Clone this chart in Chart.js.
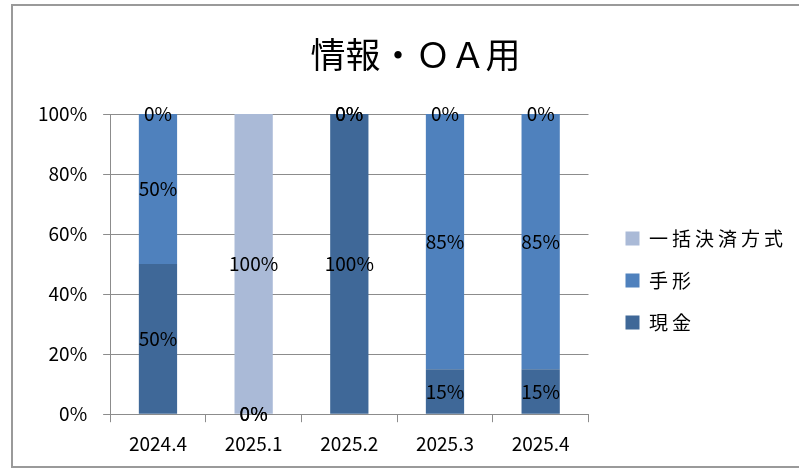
<!DOCTYPE html>
<html>
<head>
<meta charset="utf-8">
<script src="https://cdn.jsdelivr.net/npm/chart.js@4/dist/chart.umd.min.js"></script>
<style>
    html, body { margin: 0; padding: 0; background: #fff; overflow: hidden; }
    #wrap { position: relative; width: 799px; height: 474px; overflow: hidden; }
    #frame { position: absolute; left: 11px; top: 4px; width: 1200px; height: 464px; border: 2px solid #9a9a9a; box-sizing: border-box; }
    #chart { position: absolute; left: 0; top: 0; }
</style>
</head>
<body>
<div id="wrap">
    <div id="frame"></div>
    <canvas id="chart" width="799" height="474"></canvas>
</div>
<script>
var categories = ['2024.4', '2025.1', '2025.2', '2025.3', '2025.4'];
var genkin = [50, 0, 100, 15, 15];      // 現金
var tegata = [50, 0, 0, 85, 85];        // 手形
var ikkatsu = [0, 100, 0, 0, 0];        // 一括決済方式
var yTicks = [0, 20, 40, 60, 80, 100];

var FONT = "'Noto Sans CJK JP', 'Noto Sans', sans-serif";

// draws the percent label in the middle of each stacked segment
var segmentLabels = {
    id: 'segmentLabels',
    afterDatasetsDraw: function (chart) {
        var ctx = chart.ctx;
        ctx.save();
        ctx.font = '19px ' + FONT;
        ctx.fillStyle = '#000';
        ctx.textAlign = 'center';
        ctx.textBaseline = 'middle';
        chart.data.datasets.forEach(function (ds, i) {
            chart.getDatasetMeta(i).data.forEach(function (bar, j) {
                var p = bar.getProps(['x', 'y', 'base'], true);
                ctx.fillText(ds.data[j] + '%', p.x, (p.y + p.base) / 2);
            });
        });
        ctx.restore();
    }
};

// small layout tweaks: gap before the legend, title a bit right, wider legend text
var nudge = {
    id: 'nudge',
    afterLayout: function (chart) {
        chart.titleBlock.left += 25;
        chart.titleBlock.right += 25;
        var lg = chart.legend;
        lg.left += 14;
        lg.right += 14 + 40;   // room for the spaced-out text (legend clips to its box)
        if (!lg._spaced) {
            var orig = lg.draw;
            lg.draw = function () {
                chart.ctx.save();
                chart.ctx.letterSpacing = '4px';
                orig.apply(this, arguments);
                chart.ctx.restore();
            };
            lg._spaced = true;
        }
    }
};

new Chart(document.getElementById('chart'), {
    type: 'bar',
    data: {
        labels: categories,
        datasets: [
            { label: '現金', data: genkin, backgroundColor: '#3f6898' },
            { label: '手形', data: tegata, backgroundColor: '#4f81bd' },
            { label: '一括決済方式', data: ikkatsu, backgroundColor: '#aabad7' }
        ]
    },
    options: {
        responsive: false,
        animation: false,
        layout: { padding: { left: 22, right: 40, top: 4, bottom: 9 } },
        datasets: { bar: { barPercentage: 0.4, categoryPercentage: 1 } },
        scales: {
            x: {
                stacked: true,
                grid: { display: true, drawOnChartArea: false, drawTicks: true, tickLength: 8, color: '#8c8c8c', offset: true },
                border: { color: '#8c8c8c' },
                ticks: { color: '#000', font: { family: FONT, size: 19 }, padding: 10 }
            },
            y: {
                stacked: true,
                min: 0,
                max: 100,
                afterBuildTicks: function (axis) {
                    axis.ticks = yTicks.map(function (v) { return { value: v }; });
                },
                grid: { color: '#8c8c8c', tickLength: 7 },
                border: { color: '#8c8c8c' },
                ticks: {
                    color: '#000',
                    font: { family: FONT, size: 19 },
                    padding: 16,
                    callback: function (v) { return v + '%'; }
                }
            }
        },
        plugins: {
            title: {
                display: true,
                text: '情報・ＯＡ用',
                color: '#000',
                font: { family: FONT, size: 35, weight: 'normal' },
                padding: { top: 30, bottom: 38 }
            },
            legend: {
                position: 'right',
                reverse: true,
                title: { display: true, text: ' ', font: { size: 10 }, padding: 40 },
                labels: {
                    color: '#000',
                    font: { family: FONT, size: 19 },
                    boxWidth: 14,
                    boxHeight: 14,
                    padding: 23
                }
            },
            tooltip: { enabled: false }
        }
    },
    plugins: [segmentLabels, nudge]
});
</script>
</body>
</html>
